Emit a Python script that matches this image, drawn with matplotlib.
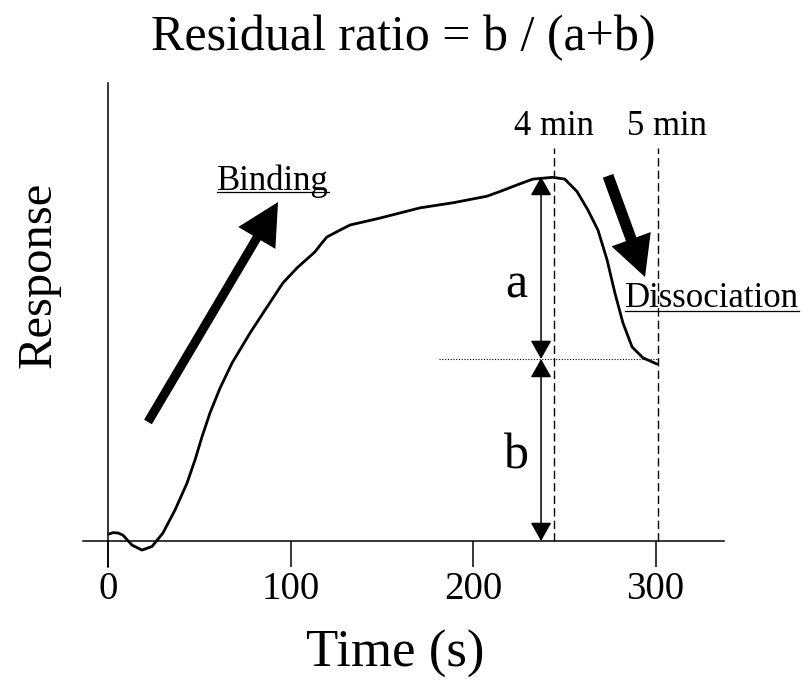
import matplotlib
matplotlib.use("Agg")
import matplotlib.pyplot as plt
from matplotlib.lines import Line2D
from matplotlib.transforms import IdentityTransform

plt.rcParams['font.family'] = ['Liberation Serif', 'DejaVu Serif']

# sensorgram (time in s, response in % of the peak)
time = [0.3, 2.5, 5.3, 8.0, 12.9, 18.4, 23.9, 29.9, 36.5, 43.1, 47.5, 51.3,
        55.7, 61.2, 67.8, 77.6, 87.0, 95.7, 103.4, 113.2, 117.1, 119.8, 127.0,
        132.5, 148.9, 170.8, 188.9, 207.5, 214.7, 224.0, 232.7, 243.7, 250.2,
        256.9, 262.9, 268.4, 273.4, 277.7, 282.1, 287.1, 293.1, 300.8]
response = [1.9, 2.3, 2.2, 1.6, -1.1, -2.5, -1.5, 2.2, 8.5, 15.9, 22.3, 28.6,
            35.2, 42.0, 48.9, 57.1, 64.3, 70.9, 75.0, 79.4, 81.9, 83.5, 85.4,
            86.8, 88.7, 91.5, 92.9, 94.7, 96.0, 97.8, 99.4, 99.9, 99.4,
            96.0, 90.9, 85.4, 77.2, 68.1, 59.9, 53.3, 50.3, 48.6]

xticks = [0, 100, 200, 300]
marker_times = [244.3, 301.5]          # "4 min" and "5 min" lines
marker_labels = ['4 min', '5 min']
peak_level = 100
residual_level = 50

fig = plt.figure(figsize=(8.03, 6.87), dpi=100)
ax = fig.add_axes([83 / 803, 120 / 687, 641 / 803, 484 / 687])
ax.set_xlim(-13.93, 337.5)
ax.set_ylim(-7.14, 125.8)

for s in ['top', 'right']:
    ax.spines[s].set_visible(False)
ax.spines['left'].set_position(('data', 0))
ax.spines['bottom'].set_position(('data', 0))
for s in ['left', 'bottom']:
    ax.spines[s].set_linewidth(1.1)

ax.set_xticks(xticks)
ax.set_yticks([])
ax.tick_params(axis='x', direction='out', length=18.7, width=1.1,
               labelsize=28, pad=3)

ax.plot(time, response, color='black', lw=2.0, solid_capstyle='round',
        solid_joinstyle='round')

# dashed time markers
for t, lab in zip(marker_times, marker_labels):
    ax.plot([t, t], [0, 108], color='black', lw=1.0, dashes=(6, 3))
    ax.text(t + (0 if lab == '4 min' else 4.7), 111.5, lab, fontsize=25,
            ha='center', va='baseline')

# dotted residual level
ax.plot([181.2, marker_times[1]], [residual_level, residual_level],
        color='black', lw=0.8, linestyle=(0, (1, 1.5)))

# a and b double arrows
arr = dict(arrowstyle='<|-|>,head_length=1.15,head_width=0.65', color='black',
           lw=1.1, mutation_scale=10, shrinkA=0, shrinkB=0)
ax.annotate('', xy=(237.2, peak_level), xytext=(237.2, residual_level),
            arrowprops=arr)
ax.annotate('', xy=(237.2, residual_level), xytext=(237.2, 0),
            arrowprops=arr)
ax.text(223.5, 67.0, 'a', fontsize=36, ha='center', va='baseline')
ax.text(223.5, 20.0, 'b', fontsize=36, ha='center', va='baseline')

# big direction arrows
ax.annotate('', xy=(93.0, 93.1), xytext=(21.7, 32.7),
            arrowprops=dict(arrowstyle='simple,head_length=3.0,head_width=3.1,tail_width=0.65',
                            fc='black', ec='none', mutation_scale=10,
                            shrinkA=0, shrinkB=0))
ax.annotate('', xy=(294.2, 72.5), xytext=(273.9, 100.3),
            arrowprops=dict(arrowstyle='simple,head_length=2.9,head_width=3.0,tail_width=0.8',
                            fc='black', ec='none', mutation_scale=10,
                            shrinkA=0, shrinkB=0))

t_bind = ax.text(59.5, 96.4, 'Binding', fontsize=25, ha='left', va='baseline')
t_diss = ax.text(283.2, 64.4, 'Dissociation', fontsize=25, ha='left',
                 va='baseline', clip_on=False)

ax.set_title('Residual ratio = b / (a+b)', fontsize=36, y=1.0682, pad=0,
             va='baseline')
ax.set_xlabel('Time (s)', fontsize=38, va='baseline')
ax.xaxis.set_label_coords(0.4867, -0.2066)
ax.set_ylabel('Response', fontsize=35, va='baseline')
ax.yaxis.set_label_coords(-0.0499, 0.6043)

# underline the two phase labels
fig.canvas.draw()
for txt, gap in [(t_bind, 2.3), (t_diss, 4.0)]:
    bb = txt.get_window_extent()
    ybase = ax.transData.transform(txt.get_position())[1]
    fig.add_artist(Line2D([bb.x0, bb.x1], [ybase - gap, ybase - gap],
                          color='black', lw=0.9, transform=IdentityTransform()))

fig.savefig('out.png', dpi=100)
